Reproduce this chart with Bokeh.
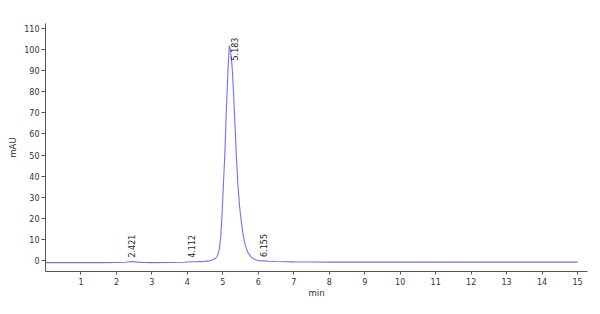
import numpy as np
from bokeh.plotting import figure
from bokeh.models import ColumnDataSource, FixedTicker, Range1d
from bokeh.core.properties import value
from bokeh.embed import file_html
from bokeh.resources import INLINE

# Chromatogram trace (time in min, signal in mAU)
times = [0.0, 0.5, 1.0, 1.5, 2.0, 2.25, 2.42, 2.6, 2.8, 3.0, 3.5, 3.9, 4.11, 4.3,
         4.5, 4.6, 4.7, 4.78, 4.84, 4.88, 4.91, 4.94, 4.97, 5.01, 5.06, 5.10,
         5.15, 5.183, 5.22, 5.26, 5.30, 5.34, 5.38, 5.42, 5.47, 5.52, 5.58,
         5.64, 5.70, 5.79, 5.9, 6.02, 6.155, 6.3, 6.5, 7.0, 7.5, 8.0, 9.0,
         10.0, 11.0, 12.0, 13.0, 14.0, 15.0]
signal = [-0.8, -0.8, -0.8, -0.8, -0.75, -0.6, -0.3, -0.55, -0.75, -0.8, -0.75,
          -0.6, -0.4, -0.35, -0.2, 0.0, 0.4, 1.0, 2.2, 4.0, 6.8, 11.5, 19.5,
          34.0, 52.0, 72.0, 92.0, 101.8, 99.0, 92.0, 80.0, 65.0, 50.0, 37.0,
          26.0, 18.5, 11.5, 7.0, 4.2, 1.9, 0.7, 0.1, 0.0, -0.15, -0.3, -0.45,
          -0.5, -0.55, -0.55, -0.55, -0.55, -0.55, -0.55, -0.55, -0.55]

# Peak annotations
peak_rt = [2.421, 4.112, 5.183, 6.155]
peak_height = [-0.3, -0.4, 101.8, 0.0]
peak_label = ["2.421", "4.112", "5.183", "6.155"]

x_ticks = list(range(1, 16))
y_ticks = list(range(0, 111, 10))

FONT = "DejaVu Sans"
FS = "8px"

p = figure(width=600, height=314, output_backend="svg", toolbar_location=None,
           x_range=Range1d(0, 15.28), y_range=Range1d(-5, 112.2),
           min_border_left=45, min_border_right=13, min_border_top=23,
           min_border_bottom=43)
p.background_fill_color = "white"
p.border_fill_color = "white"
p.outline_line_color = None
p.xgrid.visible = False
p.ygrid.visible = False

p.line(times, signal, line_color="#7070ff", line_width=1.1)

# label placement offsets (pixels): small peaks just above trace, main peak beside apex
x_off = [0, 0, 5, 0]
y_off = [-4, -4, 15, -4]
src = ColumnDataSource(dict(x=peak_rt, y=peak_height, t=peak_label,
                            xo=x_off, yo=y_off))
p.text(x="x", y="y", text="t", source=src, angle=np.pi / 2,
       x_offset="xo", y_offset="yo",
       text_align="left", text_baseline="middle",
       text_font=value(FONT), text_font_size=FS, text_color="#222222")

for ax in (p.xaxis[0], p.yaxis[0]):
    ax.axis_line_color = "#555555"
    ax.major_tick_line_color = "#555555"
    ax.minor_tick_line_color = None
    ax.major_label_text_font = FONT
    ax.major_label_text_font_size = FS
    ax.major_label_text_color = "#333333"
    ax.axis_label_text_font = FONT
    ax.axis_label_text_font_size = "8.5px"
    ax.axis_label_text_font_style = "normal"
    ax.axis_label_text_color = "#333333"
    ax.major_tick_in = 0

p.xaxis.ticker = FixedTicker(ticks=x_ticks)
p.yaxis.ticker = FixedTicker(ticks=y_ticks)
p.yaxis.axis_label = "mAU"
p.xaxis.axis_label = "min"
p.xaxis.major_tick_out = 3
p.yaxis.major_tick_out = 4
p.xaxis.major_label_standoff = 3
p.yaxis.major_label_standoff = 2
p.yaxis.axis_label_standoff = 3
p.xaxis.axis_label_standoff = 0

open("out.html", "w").write(file_html(p, INLINE))
